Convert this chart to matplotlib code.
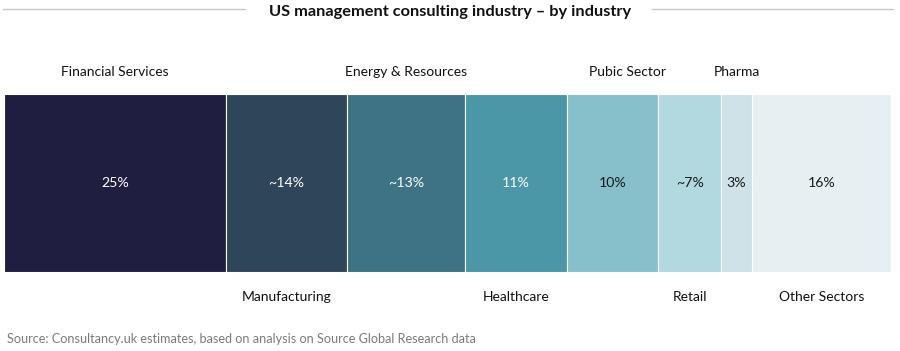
import matplotlib
matplotlib.use("Agg")
import matplotlib.pyplot as plt
from matplotlib.lines import Line2D

plt.rcParams['font.family'] = ['Lato', 'DejaVu Sans']

sectors = ["Financial Services", "Manufacturing", "Energy & Resources", "Healthcare",
           "Pubic Sector", "Retail", "Pharma", "Other Sectors"]
shares = [25, 13.6, 13.3, 11.5, 10.3, 7.1, 3.4, 15.7]
share_labels = ["25%", "~14%", "~13%", "11%", "10%", "~7%", "3%", "16%"]
label_above = [True, False, True, False, True, False, True, False]
colors = ["#1f1e40", "#2f4559", "#3e7285", "#4b97a8", "#87bfcb", "#b2d8e0", "#cfe2e7", "#e6f0f2"]
text_colors = ["white", "white", "white", "white", "#1a1a1a", "#1a1a1a", "#1a1a1a", "#1a1a1a"]

# small horizontal nudge (in pixels) of the sector name, as in the original layout
name_nudge_px = {"Pubic Sector": 15}

fig = plt.figure(figsize=(9, 3.51), dpi=100)
ax = fig.add_axes([4/900, 1 - 272/351, 887/900, 178/351])
total = sum(shares)
px_to_data = total / 887

left = 0
for name, v, lab, above, c, tc in zip(sectors, shares, share_labels, label_above, colors, text_colors):
    ax.barh(0, v, left=left, height=1, color=c, edgecolor="white", linewidth=0.8)
    cx = left + v / 2
    ax.text(cx, 0, lab, ha="center", va="center", color=tc, fontsize=10.2)
    nx = cx + name_nudge_px.get(name, 0) * px_to_data
    if above:
        ax.text(nx, 0.5 + 22/178, name, ha="center", va="center", fontsize=10, color="#111111")
    else:
        ax.text(nx, -0.5 - 25/178, name, ha="center", va="center", fontsize=10, color="#111111")
    left += v

ax.set_xlim(0, total)
ax.set_ylim(-0.5, 0.5)
ax.axis("off")

fig.text(0.5, 1 - 12/351, "US management consulting industry \u2013 by industry",
         ha="center", va="center", fontsize=11.8, fontweight="bold", color="#111111")
fig.add_artist(Line2D([3/900, 245/900], [1 - 9/351, 1 - 9/351], color="#c8c8c8", lw=1))
fig.add_artist(Line2D([652/900, 893/900], [1 - 9/351, 1 - 9/351], color="#c8c8c8", lw=1))

fig.text(7/900, 1 - 339/351, "Source: Consultancy.uk estimates, based on analysis on Source Global Research data",
         ha="left", va="center", fontsize=9.1, color="#7a7a7a")

fig.savefig("out.png", dpi=100, facecolor="white")
